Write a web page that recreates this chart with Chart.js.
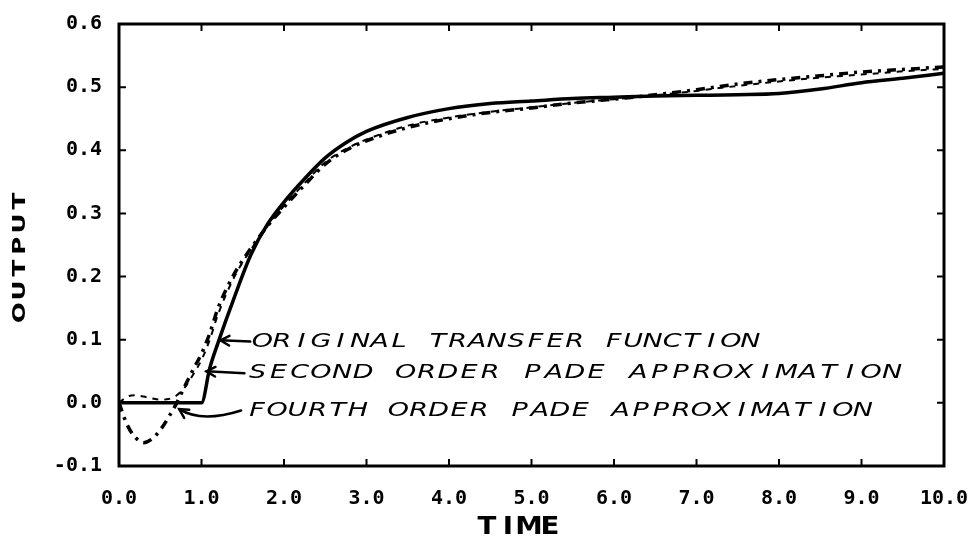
<!DOCTYPE html>
<html>
<head>
<meta charset="utf-8">
<script src="https://cdn.jsdelivr.net/npm/chart.js@4"></script>
<style>
  body { margin: 0; background: #fff; }
  #wrap { width: 970px; height: 541px; }
</style>
</head>
<body>
<div id="wrap"><canvas id="stepChart"></canvas></div>
<script>
// step response samples, shared time base
const times = [0, 0.1, 0.2, 0.3, 0.4, 0.5, 0.6, 0.7, 0.8, 0.9, 1.0, 1.1, 1.2, 1.4, 1.6, 1.8, 2.0, 2.25, 2.5, 2.75,
  3.0, 3.5, 4.0, 4.5, 5.0, 5.5, 6.0, 6.5, 7.0, 7.5, 8.0, 8.5, 9.0, 9.5, 10.0];
const original = [0, 0, 0, 0, 0, 0, 0, 0, 0, 0, 0, 0.055, 0.095, 0.168, 0.235, 0.283, 0.318, 0.355, 0.388, 0.412,
  0.430, 0.452, 0.466, 0.474, 0.478, 0.482, 0.484, 0.486, 0.487, 0.488, 0.490, 0.497, 0.507, 0.514, 0.522];
const secondOrder = [0, 0.010, 0.012, 0.010, 0.007, 0.005, 0.006, 0.012, 0.025, 0.045, 0.068, 0.100, 0.140, 0.200, 0.243, 0.280, 0.312, 0.348, 0.381, 0.402,
  0.417, 0.439, 0.452, 0.461, 0.468, 0.475, 0.481, 0.487, 0.494, 0.502, 0.509, 0.515, 0.520, 0.525, 0.529];
const fourthOrder = [0, -0.035, -0.055, -0.063, -0.057, -0.043, -0.023, 0.0, 0.027, 0.053, 0.078, 0.110, 0.150, 0.205, 0.245, 0.280, 0.310, 0.345, 0.378, 0.400,
  0.415, 0.436, 0.450, 0.460, 0.467, 0.475, 0.481, 0.488, 0.496, 0.505, 0.512, 0.518, 0.524, 0.528, 0.532];

const xTicks = [0, 1, 2, 3, 4, 5, 6, 7, 8, 9, 10];
const yTicks = [-0.1, 0, 0.1, 0.2, 0.3, 0.4, 0.5, 0.6];
const curveNotes = ['ORIGINAL TRANSFER FUNCTION', 'SECOND ORDER PADE APPROXIMATION', 'FOURTH ORDER PADE APPROXIMATION'];

const toPoints = ys => times.map((t, i) => ({ x: t, y: ys[i] }));

// letters centred in equal cells, like plotter lettering; sx widens each glyph
function spacedText(ctx, text, x0, x1, yc, sx) {
  const cell = (x1 - x0) / text.length;
  ctx.textAlign = 'center';
  ctx.textBaseline = 'middle';
  [...text].forEach((ch, i) => {
    ctx.save();
    ctx.translate(x0 + cell * (i + 0.5), yc);
    ctx.scale(sx, 1);
    ctx.fillText(ch, 0, 0);
    ctx.restore();
  });
}

function arrowHead(ctx, tx, ty, fx, fy) {
  const a = Math.atan2(ty - fy, tx - fx);
  ctx.beginPath();
  ctx.moveTo(tx - 10 * Math.cos(a - 0.5), ty - 10 * Math.sin(a - 0.5));
  ctx.lineTo(tx, ty);
  ctx.lineTo(tx - 10 * Math.cos(a + 0.5), ty - 10 * Math.sin(a + 0.5));
  ctx.stroke();
}

const framePlugin = {
  id: 'frame',
  afterDraw(chart) {
    const { ctx, chartArea: a, scales: { x, y } } = chart;
    ctx.save();
    ctx.strokeStyle = '#000';
    ctx.fillStyle = '#000';

    // box and inward ticks
    ctx.lineWidth = 3;
    ctx.strokeRect(a.left, a.top, a.right - a.left, a.bottom - a.top);
    ctx.lineWidth = 2;
    ctx.beginPath();
    xTicks.slice(1, -1).forEach(v => {
      const px = x.getPixelForValue(v);
      ctx.moveTo(px, a.bottom); ctx.lineTo(px, a.bottom - 7);
      ctx.moveTo(px, a.top); ctx.lineTo(px, a.top + 7);
    });
    yTicks.slice(1, -1).forEach(v => {
      const py = y.getPixelForValue(v);
      ctx.moveTo(a.left, py); ctx.lineTo(a.left + 7, py);
      ctx.moveTo(a.right, py); ctx.lineTo(a.right - 7, py);
    });
    ctx.stroke();

    // axis titles
    ctx.font = 'bold 24px "DejaVu Sans"';
    const cx = (a.left + a.right) / 2 - 13;
    spacedText(ctx, 'TIME', cx - 42, cx + 42, 528, 1.15);
    ctx.save();
    ctx.translate(21, (a.top + a.bottom) / 2 + 12);
    ctx.rotate(-Math.PI / 2);
    ctx.font = 'bold 17px "DejaVu Sans"';
    spacedText(ctx, 'OUTPUT', -67, 67, 0, 1.45);
    ctx.restore();

    // hand lettered curve labels with arrows
    const P = (t, v) => [x.getPixelForValue(t), y.getPixelForValue(v)];
    ctx.font = 'italic 20px "DejaVu Sans"';
    const rows = [
      { from: 1.62, to: 7.77, v: 0.096 },
      { from: 1.55, to: 9.50, v: 0.047 },
      { from: 1.55, to: 9.14, v: -0.012 }
    ];
    rows.forEach((r, i) => {
      const [x0, yc] = P(r.from, r.v);
      const [x1] = P(r.to, r.v);
      spacedText(ctx, curveNotes[i], x0, x1, yc, 1.35);
    });

    ctx.lineWidth = 2.5;
    ctx.lineCap = 'round';
    // original
    let [sx, sy] = P(1.59, 0.097), [ex, ey] = P(1.23, 0.099);
    ctx.beginPath(); ctx.moveTo(sx, sy); ctx.lineTo(ex, ey); ctx.stroke();
    arrowHead(ctx, ex, ey, sx, sy);
    // second order
    [sx, sy] = P(1.52, 0.047); [ex, ey] = P(1.06, 0.050);
    ctx.beginPath(); ctx.moveTo(sx, sy); ctx.lineTo(ex, ey); ctx.stroke();
    arrowHead(ctx, ex, ey, sx, sy);
    // fourth order
    [sx, sy] = P(1.48, -0.012);
    const [qx, qy] = P(1.0, -0.032);
    [ex, ey] = P(0.73, -0.010);
    ctx.beginPath(); ctx.moveTo(sx, sy); ctx.quadraticCurveTo(qx, qy, ex, ey); ctx.stroke();
    arrowHead(ctx, ex, ey, qx, qy);

    ctx.restore();
  }
};

const tickFont = { family: '"DejaVu Sans Mono"', size: 20, weight: 'bold' };

new Chart(document.getElementById('stepChart'), {
  type: 'line',
  data: {
    datasets: [
      {
        label: 'Original transfer function',
        data: toPoints(original),
        borderColor: '#000',
        borderWidth: 3.5,
        pointRadius: 0,
        cubicInterpolationMode: 'monotone'
      },
      {
        label: 'Second order Pade approximation',
        data: toPoints(secondOrder),
        borderColor: '#000',
        borderWidth: 2,
        borderDash: [6, 6],
        pointRadius: 0,
        cubicInterpolationMode: 'monotone'
      },
      {
        label: 'Fourth order Pade approximation',
        data: toPoints(fourthOrder),
        borderColor: '#000',
        borderWidth: 3.5,
        borderDash: [9, 6, 3, 6],
        pointRadius: 0,
        cubicInterpolationMode: 'monotone'
      }
    ]
  },
  options: {
    responsive: true,
    maintainAspectRatio: false,
    animation: false,
    layout: { padding: { top: 24, right: 26, bottom: 0, left: 0 } },
    plugins: { legend: { display: false }, tooltip: { enabled: false } },
    scales: {
      x: {
        type: 'linear',
        min: 0,
        max: 10,
        grid: { display: false },
        border: { display: false },
        afterFit: s => { s.height = 75; s.paddingLeft = 0; s.paddingRight = 0; },
        afterBuildTicks: s => { s.ticks = xTicks.map(v => ({ value: v })); },
        ticks: { font: tickFont, color: '#000', padding: 13, maxRotation: 0, callback: v => v.toFixed(1) }
      },
      y: {
        min: -0.1,
        max: 0.6,
        grid: { display: false },
        border: { display: false },
        afterFit: s => { s.width = 119; },
        afterBuildTicks: s => { s.ticks = yTicks.map(v => ({ value: v })); },
        ticks: { font: tickFont, color: '#000', padding: 9, callback: v => v.toFixed(1) }
      }
    }
  },
  plugins: [framePlugin]
});
</script>
</body>
</html>
